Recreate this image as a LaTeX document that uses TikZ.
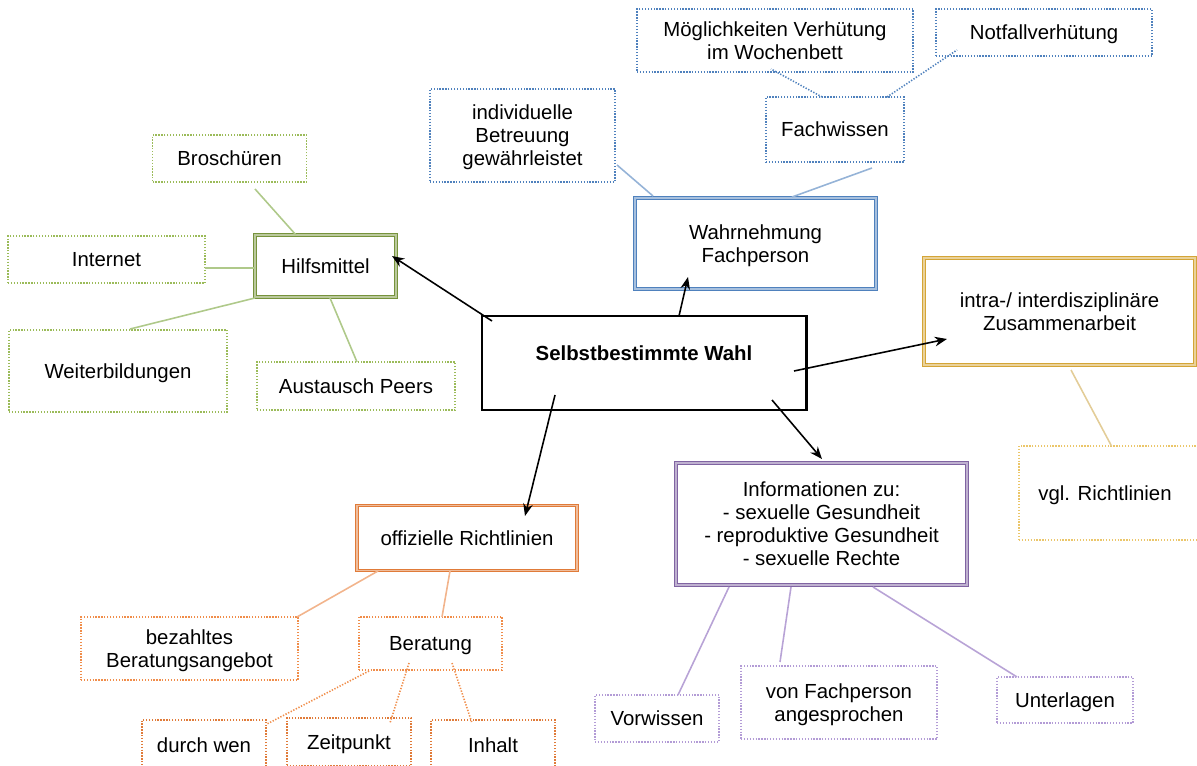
\documentclass[tikz,border=0pt]{standalone}
\usepackage{fontspec}
\setmainfont{Liberation Sans}
\usetikzlibrary{calc,arrows.meta}
\definecolor{gDark}{HTML}{77933C}
\definecolor{gMid}{HTML}{9BBB59}
\definecolor{gLine}{HTML}{AFC98A}
\definecolor{bDark}{HTML}{4F81BD}
\definecolor{bMid}{HTML}{95B3D7}
\definecolor{bLine}{HTML}{95B3D7}
\definecolor{yDark}{HTML}{D4A537}
\definecolor{yMid}{HTML}{EBC66A}
\definecolor{yLine}{HTML}{E3CD98}
\definecolor{pDark}{HTML}{8064A2}
\definecolor{pMid}{HTML}{B39CD6}
\definecolor{pLine}{HTML}{B8A3D6}
\definecolor{oDark}{HTML}{E07B39}
\definecolor{oMid}{HTML}{F08D4A}
\definecolor{oLine}{HTML}{F2B48C}
\tikzset{
  base/.style={rectangle, align=center, inner sep=2pt, text depth=0pt,
    font=\fontsize{11.6pt}{13.1pt}\selectfont, fill=white},
  dotbox/.style={base, draw=#1, line width=0.75pt, dash pattern=on 0.75pt off 0.9pt},
  mainbox/.style={base, draw=#1, line width=0.6pt, double=#1!50!white, double distance=0.6pt},
  sz/.style 2 args={minimum width=#1*0.02cm, minimum height=#2*0.02cm},
  arr/.style={draw=black, line width=0.9pt, -{Stealth[length=7pt,width=5.5pt]}},
  link/.style={draw=#1, line width=0.9pt},
  dlink/.style={draw=#1, line width=0.9pt, dash pattern=on 0.75pt off 0.9pt},
}
\begin{document}
\begin{tikzpicture}[x=0.02cm,y=-0.02cm]
\useasboundingbox (0,0) rectangle (1197,766);
% center
\node[base, draw=black, line width=1.7pt, sz={324}{94}, text depth=0.4cm, font=\fontsize{11.6pt}{13.1pt}\selectfont\bfseries] (c) at (644,363) {Selbstbestimmte Wahl};
% green group
\node[mainbox=gDark, sz={141}{62}] (hilf) at (325.5,266) {Hilfsmittel};
\node[dotbox=gMid, sz={154}{47}] (brosch) at (229.5,158.5) {Broschüren};
\node[dotbox=gMid, sz={197}{47}] (internet) at (106.5,259.5) {Internet};
\node[dotbox=gMid, sz={218}{82}] (weiter) at (118,371) {Weiterbildungen};
\node[dotbox=gMid, sz={198}{48}] (peers) at (356,386) {Austausch Peers};
% blue group
\node[mainbox=bDark, sz={241}{91}] (wahr) at (755.5,243.5) {Wahrnehmung\\Fachperson};
\node[dotbox=bDark, sz={185}{93}] (indiv) at (522.5,135.5) {individuelle\\Betreuung\\gewährleistet};
\node[dotbox=bDark, sz={138}{65}] (fach) at (835,129.5) {Fachwissen};
\node[dotbox=bDark, sz={276}{63}] (moeg) at (775,40.5) {Möglichkeiten Verhütung\\im Wochenbett};
\node[dotbox=bDark, sz={216}{47}] (notf) at (1044,32.5) {Notfallverhütung};
% gold group
\node[mainbox=yDark, sz={271}{107}] (intra) at (1059.5,311.5) {intra-/ interdisziplinäre\\Zusammenarbeit};
\node[dotbox=yMid, sz={182}{94}] (vgl) at (1110,493) {vgl. Richtlinien\hspace*{0.2cm}};
% purple group
\node[mainbox=pDark, sz={291}{122}] (info) at (821.5,524) {Informationen zu:\\- sexuelle Gesundheit\\- reproduktive Gesundheit\\- sexuelle Rechte};
\node[dotbox=pMid, sz={124}{47}] (vorw) at (657,718.5) {Vorwissen};
\node[dotbox=pMid, sz={196}{73}] (vonf) at (839,702.5) {von Fachperson\\angesprochen};
\node[dotbox=pMid, sz={136}{46}] (unterl) at (1065,700) {Unterlagen};
% orange group
\node[mainbox=oDark, sz={220}{65}] (offiz) at (467,538) {offizielle Richtlinien};
\node[dotbox=oMid, sz={217}{63}] (bezahlt) at (189.5,648.5) {bezahltes\\Beratungsangebot};
\node[dotbox=oMid, sz={143}{53}] (berat) at (430.5,643.5) {Beratung};
\node[dotbox=oDark, sz={124}{50}] (durch) at (204,745) {durch wen};
\node[dotbox=oDark, sz={124}{48}] (zeit) at (349,742) {Zeitpunkt};
\node[dotbox=oDark, sz={124}{50}] (inhalt) at (493,745) {Inhalt};
% arrows
\draw[arr] ($(c)+(-152,-42)$) -- ($(hilf)+(66.5,-10)$);
\draw[arr] ($(c)+(35,-47)$) -- ($(wahr)+(-67.5,33.5)$);
\draw[arr] ($(c)+(150,8)$) -- ($(intra)+(-112.5,27.5)$);
\draw[arr] ($(c)+(128,37)$) -- ($(info)+(0.5,-65)$);
\draw[arr] ($(c)+(-89,32)$) -- ($(offiz)+(58,-22)$);
% green links
\draw[link=gLine] ($(hilf)+(-29.5,-31)$) -- ($(brosch)+(25.5,30.5)$);
\draw[link=gLine] ($(hilf)+(-70.5,2)$) -- ($(internet)+(98.5,8.5)$);
\draw[link=gLine] ($(hilf)+(-70.5,32)$) -- ($(weiter)+(12,-42)$);
\draw[link=gLine] ($(hilf)+(4.5,32)$) -- ($(peers)+(1,-24)$);
% blue links
\draw[link=bLine] ($(wahr)+(-102.5,-47.5)$) -- ($(indiv)+(94.5,29.5)$);
\draw[link=bLine] ($(wahr)+(36.5,-46.5)$) -- ($(fach)+(37,38.5)$);
\draw[dlink=bDark] ($(fach)+(-13,-32.5)$) -- ($(moeg)+(-4,28.5)$);
\draw[dlink=bDark] ($(fach)+(52,-32.5)$) -- ($(notf)+(-87,17.5)$);
% gold link
\draw[link=yLine] ($(intra)+(11.5,58.5)$) -- ($(vgl)+(1.5,-47)$);
% purple links
\draw[link=pLine] ($(info)+(-92.5,63)$) -- ($(vorw)+(21,-23.5)$);
\draw[link=pLine] ($(info)+(-30.5,63)$) -- ($(vonf)+(-59,-40.5)$);
\draw[link=pLine] ($(info)+(51.5,63)$) -- ($(unterl)+(-48,-23)$);
% orange links
\draw[link=oLine] ($(offiz)+(-89,33)$) -- ($(bezahlt)+(107.5,-31.5)$);
\draw[link=oLine] ($(offiz)+(-17,33)$) -- ($(berat)+(11.5,-26.5)$);
\draw[dlink=oMid] ($(berat)+(-61.5,27.5)$) -- ($(durch)+(63,-21)$);
\draw[dlink=oMid] ($(berat)+(-21.5,19.5)$) -- ($(zeit)+(41,-19)$);
\draw[dlink=oMid] ($(berat)+(21.5,19.5)$) -- ($(inhalt)+(-21,-22)$);
\end{tikzpicture}
\end{document}
